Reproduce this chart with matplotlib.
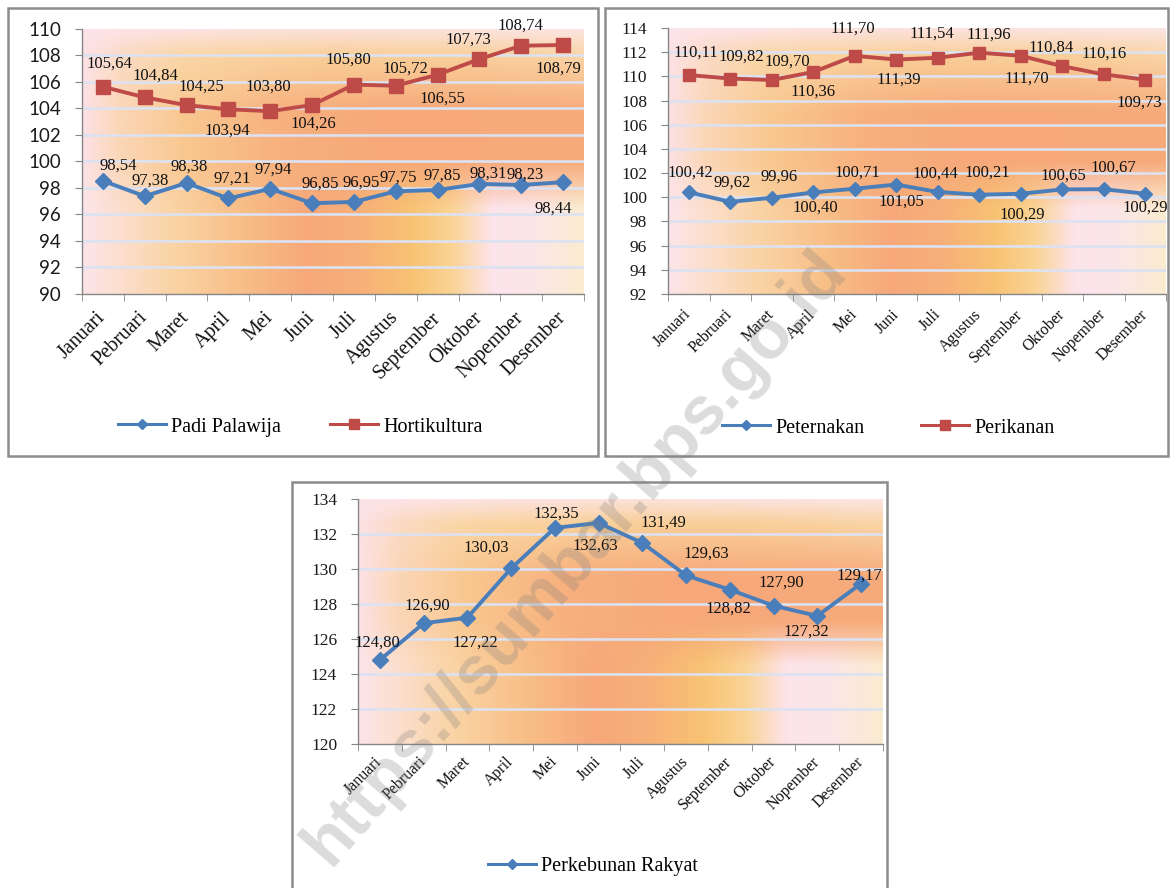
import numpy as np
import matplotlib
matplotlib.use("Agg")
import matplotlib.pyplot as plt
from matplotlib.patches import Rectangle
from matplotlib.lines import Line2D

# ---- data ---------------------------------------------------------------
months = ["Januari", "Pebruari", "Maret", "April", "Mei", "Juni", "Juli",
          "Agustus", "September", "Oktober", "Nopember", "Desember"]

padi_palawija = [98.54, 97.38, 98.38, 97.21, 97.94, 96.85, 96.95, 97.75,
                 97.85, 98.31, 98.23, 98.44]
hortikultura = [105.64, 104.84, 104.25, 103.94, 103.80, 104.26, 105.80,
                105.72, 106.55, 107.73, 108.74, 108.79]
peternakan = [100.42, 99.62, 99.96, 100.40, 100.71, 101.05, 100.44, 100.21,
              100.29, 100.65, 100.67, 100.29]
perikanan = [110.11, 109.82, 109.70, 110.36, 111.70, 111.39, 111.54, 111.96,
             111.70, 110.84, 110.16, 109.73]
perkebunan_rakyat = [124.80, 126.90, 127.22, 130.03, 132.35, 132.63, 131.49,
                     129.63, 128.82, 127.90, 127.32, 129.17]

# ---- label placement (pixel offsets from each marker) --------------------
off_padi = [(15, 15), (5, 16), (3, 16), (4, 20), (3, 19), (8, 20), (7, 19),
            (2, 14), (5, 14), (9, 10), (4, 10), (-10, -26)]
off_horti = [(7, 23), (11, 22), (15, 19), (-1, -21), (-2, 25), (1, -19),
             (-6, 25), (10, 17), (5, -24), (-11, 19), (-1, 20), (-5, -24)]
off_peter = [(2, 20), (2, 19), (7, 21), (2, -15), (3, 16), (5, -17), (-2, 18),
             (8, 22), (1, -21), (1, 14), (10, 22), (0, -14)]
off_perik = [(7, 22), (11, 22), (16, 18), (0, -20), (-2, 27), (2, -20),
             (-6, 24), (10, 18), (6, -23), (-11, 19), (0, 21), (-6, -23)]
off_perkeb = [(-3, 17), (4, 18), (8, -25), (-25, 21), (1, 14), (-3, -23),
              (21, 20), (20, 22), (-2, -19), (8, 23), (-11, -16), (-2, 8)]

W, H = 1171, 888
DPI = 100
BLUE = "#4A7EBB"
RED = "#BE4B48"
SPINE = "#868686"
GRID = "#dce2f1"
SERIF = "Liberation Serif"

fig = plt.figure(figsize=(W / DPI, H / DPI), dpi=DPI)
fig.patch.set_facecolor("white")


def profile(stops, n):
    xs = np.linspace(0, 1, n)
    pos = [s[0] for s in stops]
    cols = np.array([s[1] for s in stops], dtype=float) / 255.0
    return np.stack([np.interp(xs, pos, cols[:, i]) for i in range(3)], axis=1)


def fill_gradient(n_x=400, n_y=200):
    top = profile([(0, (253, 228, 234)), (0.5, (252, 226, 220)),
                   (1, (252, 229, 228))], n_x)
    light = profile([(0, (253, 226, 230)), (0.08, (251, 218, 195)),
                     (0.2, (250, 214, 165)), (0.5, (249, 207, 152)),
                     (0.8, (249, 208, 155)), (1, (250, 213, 167))], n_x)
    band = profile([(0, (253, 226, 230)), (0.07, (251, 215, 185)),
                    (0.2, (249, 200, 145)), (0.4, (247, 176, 126)),
                    (0.6, (246, 168, 122)), (1, (247, 170, 122))], n_x)
    low = profile([(0, (253, 228, 234)), (0.05, (252, 225, 215)),
                   (0.18, (250, 212, 165)), (0.32, (248, 190, 135)),
                   (0.45, (246, 168, 122)), (0.55, (247, 175, 120)),
                   (0.66, (248, 195, 115)), (0.74, (250, 212, 150)),
                   (0.82, (253, 228, 236)), (0.9, (252, 230, 232)),
                   (1.0, (250, 236, 208))], n_x)
    rows = [(0.0, top), (0.1, light), (0.32, band), (0.5, band),
            (0.68, low), (1.0, low)]
    img = np.zeros((n_y, n_x, 3))
    ts = np.linspace(0, 1, n_y)
    for r, t in enumerate(ts):
        for k in range(len(rows) - 1):
            t0, p0 = rows[k]
            t1, p1 = rows[k + 1]
            if t0 <= t <= t1:
                w = (t - t0) / (t1 - t0) if t1 > t0 else 0
                img[r] = p0 * (1 - w) + p1 * w
                break
    return img


GRAD = fill_gradient()


def setup_axes(rect_px, ylim, ytick_font, ytick_size, xtick_size, xpad):
    left, top, right, bottom = rect_px
    ax = fig.add_axes([left / W, 1 - bottom / H, (right - left) / W,
                       (bottom - top) / H])
    ax.imshow(GRAD, extent=(0, 1, 0, 1), transform=ax.transAxes,
              aspect="auto", zorder=0, interpolation="bilinear")
    ax.set_xlim(-0.5, 11.5)
    ax.set_ylim(*ylim)
    yt = np.arange(ylim[0], ylim[1] + 0.1, 2)
    ax.set_yticks(yt)
    ax.set_yticklabels([f"{int(v)}" for v in yt], family=ytick_font,
                       fontsize=ytick_size, color="#1a1a1a")
    for v in yt[1:-1]:
        ax.axhline(v, color=GRID, lw=1.9, zorder=1)
    ax.set_xticks(range(12))
    ax.set_xticklabels(months, rotation=45, ha="right", va="center",
                       rotation_mode="anchor", family=SERIF,
                       fontsize=xtick_size, color="#111111")
    ax.set_xticks(np.arange(-0.5, 12, 1), minor=True)
    ax.tick_params(axis="x", which="major", length=0, pad=xpad)
    ax.tick_params(axis="x", which="minor", length=5, color=SPINE,
                   direction="out")
    ax.tick_params(axis="y", length=5, color=SPINE, direction="out", pad=10)
    for s in ("top", "right"):
        ax.spines[s].set_visible(False)
    for s in ("left", "bottom"):
        ax.spines[s].set_color(SPINE)
        ax.spines[s].set_linewidth(1.0)
    return ax


def plot_series(ax, values, color, marker, ms, offsets, fsize):
    x = np.arange(len(values))
    ax.plot(x, values, color=color, lw=2.8, marker=marker, ms=ms,
            markeredgecolor=color, markerfacecolor=color, zorder=3,
            clip_on=False)
    for xi, v, (dx, dy) in zip(x, values, offsets):
        ax.annotate(f"{v:.2f}".replace(".", ","), (xi, v),
                    xytext=(dx, dy), textcoords="offset pixels",
                    ha="center", va="center", family=SERIF, fontsize=fsize,
                    color="#111111", zorder=4)


def add_legend(items, x_px, y_px, colspace):
    handles = [Line2D([0], [0], color=c, lw=2.2, marker=m, ms=ms,
                      markerfacecolor=c, markeredgecolor=c)
               for c, m, ms, _ in items]
    labels = [lab for *_, lab in items]
    fig.legend(handles, labels, loc="center left",
               bbox_to_anchor=(x_px / W, 1 - y_px / H), ncol=len(items),
               frameon=False, borderpad=0, handlelength=2.4,
               handletextpad=0.25, columnspacing=colspace,
               prop={"family": SERIF, "size": 14.5})


def add_frame(x0, y0, x1, y1):
    fig.add_artist(Rectangle((x0 / W, 1 - y1 / H), (x1 - x0) / W,
                             (y1 - y0) / H, transform=fig.transFigure,
                             fill=False, edgecolor="#8c8c8c", lw=1.8,
                             zorder=5))


# ---- panel 1: Padi Palawija & Hortikultura --------------------------------
ax1 = setup_axes((82, 29, 584, 294), (90, 110), "Lato", 13.5, 14.5, 15)
plot_series(ax1, hortikultura, RED, "s", 9.5, off_horti, 12)
plot_series(ax1, padi_palawija, BLUE, "D", 8, off_padi, 12)
add_legend([(BLUE, "D", 5.5, "Padi Palawija"),
            (RED, "s", 7, "Hortikultura")], 108, 427, 2.4)
add_frame(8, 8, 598, 456)

# ---- panel 2: Peternakan & Perikanan --------------------------------------
ax2 = setup_axes((668, 28, 1166, 294), (92, 114), SERIF, 12.5, 11.5, 13)
plot_series(ax2, perikanan, RED, "s", 9, off_perik, 12)
plot_series(ax2, peternakan, BLUE, "D", 7.5, off_peter, 12)
add_legend([(BLUE, "D", 5.5, "Peternakan"),
            (RED, "s", 7, "Perikanan")], 712, 428, 2.8)
add_frame(605, 8, 1168, 456)

# ---- panel 3: Perkebunan Rakyat -------------------------------------------
ax3 = setup_axes((358, 499, 883, 744), (120, 134), SERIF, 12.5, 11.5, 11)
plot_series(ax3, perkebunan_rakyat, BLUE, "D", 8, off_perkeb, 12)
add_legend([(BLUE, "D", 5.5, "Perkebunan Rakyat")], 478, 866, 2.4)
add_frame(292, 482, 887, 900)

# ---- site watermark -------------------------------------------------------
fig.text(575 / W, 1 - 558 / H, "https://sumbar.bps.go.id", rotation=49,
         ha="center", va="center", fontsize=49, fontweight="bold",
         family="Liberation Sans", color="#808080", alpha=0.28, zorder=10,
         rotation_mode="anchor")

fig.savefig("out.png", dpi=DPI)
